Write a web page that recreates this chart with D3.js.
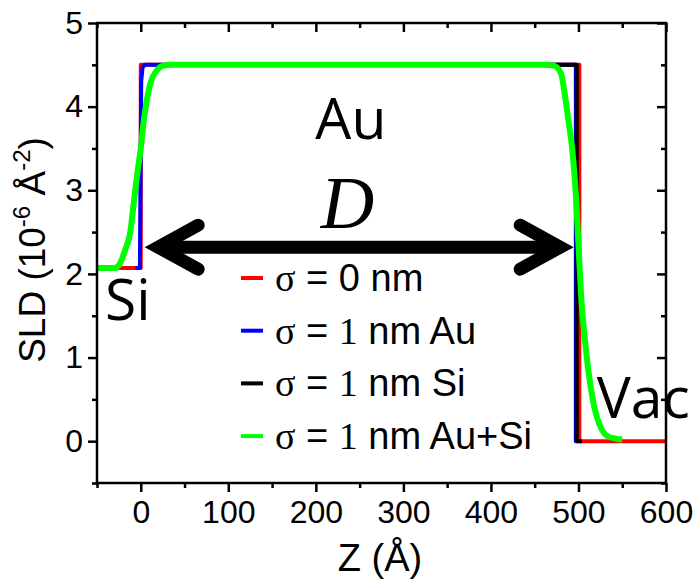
<!DOCTYPE html>
<html>
<head>
<meta charset="utf-8">
<script src="https://cdn.jsdelivr.net/npm/d3@7"></script>
<style>
    body { margin: 0; background: #fff; }
    text { font-family: "Liberation Sans", Arial, sans-serif; fill: #000; }
</style>
</head>
<body>
<svg id="drawing_region"></svg>
<script>
// SLD profiles (z in Å, SLD in 10^-6 Å^-2)
const z_red   = [-50, 0, 0, 501, 501, 600];
const sld_red = [2.07, 2.07, 4.5, 4.5, 0, 0];

const z_blue   = [-6, -1, 0.5, 2, 5, 497, 497, 500];
const sld_blue = [2.07, 2.07, 4.3, 4.47, 4.5, 4.5, 0, 0];

const z_black   = [100, 498, 498, 504];
const sld_black = [4.5, 4.5, 0, 0];

const z_green   = [-50, -30, -24, -18, -12, -8, -4, 0, 3, 7, 11, 18, 26, 35,
                   460, 472, 480, 485, 489, 493, 497, 500, 503, 508, 516, 524, 535, 550];
const sld_green = [2.07, 2.07, 2.12, 2.28, 2.5, 2.85, 3.2, 3.5, 3.8, 4.08, 4.28, 4.43, 4.49, 4.5,
                   4.5, 4.49, 4.4, 4.1, 3.8, 3.48, 2.95, 2.35, 1.75, 1.15, 0.52, 0.2, 0.05, 0.02];

const series_colors = ['#ff0000', '#0000ff', '#000000', '#00ff00'];
const legend_num  = ['0', '1', '1', '1'];
const legend_tail = [' nm', ' nm Au', ' nm Si', ' nm Au+Si'];

const x_ticks = [0, 100, 200, 300, 400, 500, 600];
const x_minor = [-50, 50, 150, 250, 350, 450, 550];
const y_ticks = [0, 1, 2, 3, 4, 5];
const y_minor = [-0.5, 0.5, 1.5, 2.5, 3.5, 4.5];

// arrow between the two interfaces, and the layer labels
const arrow_z = [5, 494];
const arrow_sld = 2.32;
const labels = [
    {text: 'Au',  z: 240, sld: 3.61, anchor: 'middle'},
    {text: 'Si',  z: -41, sld: 1.45, anchor: 'start'},
    {text: 'Vac', z: 521, sld: 0.28, anchor: 'start'}
];

const config = {
    width: 700,
    height: 580,
    margin: {top: 23, right: 34, bottom: 97, left: 97}
};

const svg = d3.select('#drawing_region')
    .attr('width', config.width)
    .attr('height', config.height);

const inner_width = config.width - config.margin.left - config.margin.right;
const inner_height = config.height - config.margin.top - config.margin.bottom;

const chart = svg.append('g')
    .attr('transform', `translate(${config.margin.left}, ${config.margin.top})`);

const xscale = d3.scaleLinear().domain([-50, 600]).range([0, inner_width]);
const yscale = d3.scaleLinear().domain([-0.5, 5]).range([inner_height, 0]);

chart.append('clipPath').attr('id', 'clip')
    .append('rect').attr('width', inner_width).attr('height', inner_height);

// axes: outer ticks bottom/left with labels, inner ticks top/right
function styleAxis(g) {
    g.select('.domain').remove();
    g.selectAll('line').attr('stroke', '#000').attr('stroke-width', 2.5);
    g.selectAll('text').attr('font-size', 32).attr('fill', '#000');
}

chart.append('g')
    .attr('transform', `translate(0, ${inner_height})`)
    .call(d3.axisBottom(xscale).tickValues(x_ticks).tickSize(9).tickPadding(8))
    .call(styleAxis);
chart.append('g')
    .attr('transform', `translate(0, ${inner_height})`)
    .call(d3.axisBottom(xscale).tickValues(x_minor).tickSize(5).tickFormat(''))
    .call(styleAxis);
chart.append('g')
    .call(d3.axisLeft(yscale).tickValues(y_ticks).tickSize(9).tickPadding(5).tickFormat(d3.format('d')))
    .call(styleAxis);
chart.append('g')
    .call(d3.axisLeft(yscale).tickValues(y_minor).tickSize(5).tickFormat(''))
    .call(styleAxis);
chart.append('g')
    .call(d3.axisBottom(xscale).tickValues(x_ticks).tickSize(9).tickFormat(''))
    .call(styleAxis);
chart.append('g')
    .call(d3.axisBottom(xscale).tickValues(x_minor).tickSize(5).tickFormat(''))
    .call(styleAxis);
chart.append('g')
    .attr('transform', `translate(${inner_width}, 0)`)
    .call(d3.axisLeft(yscale).tickValues(y_ticks).tickSize(9).tickFormat(''))
    .call(styleAxis);
chart.append('g')
    .attr('transform', `translate(${inner_width}, 0)`)
    .call(d3.axisLeft(yscale).tickValues(y_minor).tickSize(5).tickFormat(''))
    .call(styleAxis);

// curves
const line = d3.line().x(d => xscale(d[0])).y(d => yscale(d[1]));
const smooth = d3.line().x(d => xscale(d[0])).y(d => yscale(d[1])).curve(d3.curveMonotoneX);

const series = [
    {pts: d3.zip(z_red, sld_red), gen: line, w: 4},
    {pts: d3.zip(z_blue, sld_blue), gen: line, w: 4},
    {pts: d3.zip(z_black, sld_black), gen: line, w: 4},
    {pts: d3.zip(z_green, sld_green), gen: smooth, w: 6}
];

chart.append('g').attr('clip-path', 'url(#clip)')
    .selectAll('path')
    .data(series)
    .join('path')
    .attr('d', d => d.gen(d.pts))
    .attr('fill', 'none')
    .attr('stroke', (d, i) => series_colors[i])
    .attr('stroke-width', d => d.w)
    .attr('stroke-linejoin', 'round');

// frame
chart.append('rect')
    .attr('width', inner_width)
    .attr('height', inner_height)
    .attr('fill', 'none')
    .attr('stroke', '#000')
    .attr('stroke-width', 2.5);

// double arrow
const ay = yscale(arrow_sld);
const x1 = xscale(arrow_z[0]) + 13, x2 = xscale(arrow_z[1]) - 13;
const arrow = chart.append('g')
    .attr('fill', 'none').attr('stroke', '#000').attr('stroke-width', 13)
    .attr('stroke-linecap', 'round');
arrow.append('line').attr('x1', x1).attr('x2', x2).attr('y1', ay).attr('y2', ay)
    .attr('stroke-linecap', 'butt');
arrow.append('path')
    .attr('d', `M${x1 + 40},${ay - 22}L${x1},${ay}L${x1 + 40},${ay + 22}`)
    .attr('stroke-linejoin', 'miter');
arrow.append('path')
    .attr('d', `M${x2 - 40},${ay - 22}L${x2},${ay}L${x2 - 40},${ay + 22}`)
    .attr('stroke-linejoin', 'miter');

chart.append('text')
    .attr('x', xscale(236))
    .attr('y', yscale(2.55))
    .attr('text-anchor', 'middle')
    .style('font-family', '"Liberation Serif", "Times New Roman", serif')
    .style('font-style', 'italic')
    .attr('font-size', 74)
    .text('D');

// layer labels
svg.append('g')
    .attr('transform', `translate(${config.margin.left}, ${config.margin.top})`)
    .selectAll('text')
    .data(labels)
    .join('text')
    .attr('x', d => xscale(d.z))
    .attr('y', d => yscale(d.sld))
    .attr('text-anchor', d => d.anchor)
    .style('font-family', '"Open Sans", sans-serif')
    .attr('font-size', 57)
    .text(d => d.text);

// legend
const legend = svg.append('g').attr('transform', 'translate(241, 278)');
const rows = legend.selectAll('g')
    .data(legend_num)
    .join('g')
    .attr('transform', (d, i) => `translate(0, ${i * 52.7})`);
rows.append('line')
    .attr('x1', 0).attr('x2', 22)
    .attr('stroke', (d, i) => series_colors[i])
    .attr('stroke-width', 4);
const ltext = rows.append('text')
    .attr('x', 34).attr('y', 13)
    .attr('font-size', 38);
ltext.append('tspan').style('font-family', '"Liberation Serif", serif').text('σ');
ltext.append('tspan').text(' = ');
ltext.append('tspan').style('font-family', (d) => d === '1' ? '"Liberation Serif", serif' : null).text(d => d);
ltext.append('tspan').text((d, i) => legend_tail[i]);

// axis titles
svg.append('text')
    .attr('x', 380)
    .attr('y', 571)
    .attr('text-anchor', 'middle')
    .attr('font-size', 38)
    .text('Z (Å)');

const ylab = svg.append('text')
    .attr('transform', 'translate(45, 250) rotate(-90)')
    .attr('text-anchor', 'middle')
    .attr('font-size', 37);
ylab.append('tspan').text('SLD (10');
ylab.append('tspan').attr('font-size', 24).attr('dy', -15).text('-6');
ylab.append('tspan').attr('dy', 15).text(' Å');
ylab.append('tspan').attr('font-size', 24).attr('dy', -15).text('-2');
ylab.append('tspan').attr('dy', 15).text(')');
</script>
</body>
</html>
